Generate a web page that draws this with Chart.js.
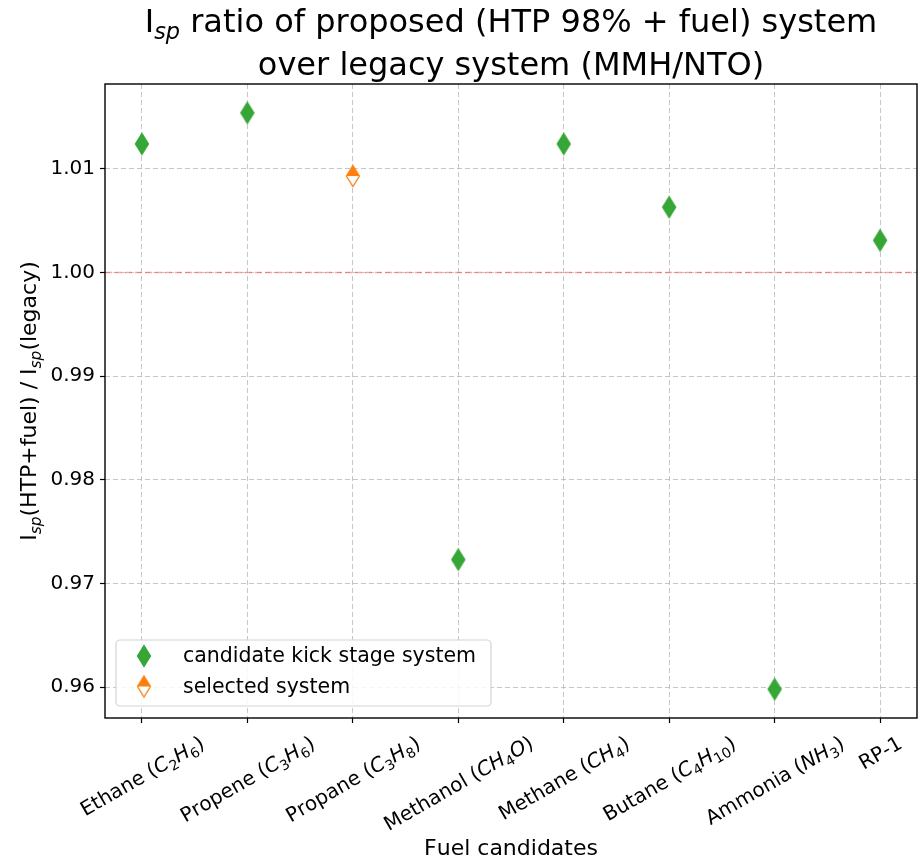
<!DOCTYPE html>
<html>
<head>
<meta charset="utf-8">
<script src="https://cdn.jsdelivr.net/npm/chart.js@4"></script>
<style>
  body { margin: 0; background: #fff; }
  canvas { display: block; }
</style>
</head>
<body>
<canvas id="chart" width="922" height="862"></canvas>
<script>
// Fuel candidates (matplotlib-like mathtext for the formulas)
const fuels = [
  'Ethane ($C_2H_6$)',
  'Propene ($C_3H_6$)',
  'Propane ($C_3H_8$)',
  'Methanol ($CH_4O$)',
  'Methane ($CH_4$)',
  'Butane ($C_4H_{10}$)',
  'Ammonia ($NH_3$)',
  'RP-1',
];

// Isp(HTP+fuel) / Isp(legacy)
const ispRatios = [1.0124, 1.0154, 1.0093, 0.9723, 1.0124, 1.0063, 0.9598, 1.0031];

// index of the selected system (Propane)
const selectedIndex = 2;

const yTicks = [0.96, 0.97, 0.98, 0.99, 1.00, 1.01];
const legacyRatio = 1.0;

const titleLines = [
  'I$_{sp}$ ratio of proposed (HTP 98% + fuel) system',
  'over legacy system (MMH/NTO)',
];
const yTitle = 'I$_{sp}$(HTP+fuel) / I$_{sp}$(legacy)';
const xTitle = 'Fuel candidates';
const legendLabels = ['candidate kick stage system', 'selected system'];

const FONT = '"DejaVu Sans", sans-serif';
const GREEN = '#36a636';
const ORANGE = '#ff7f0e';

// ---- small mathtext-ish helpers ----
function parseRich(str) {
  const runs = [];
  let math = false;
  let i = 0;
  while (i < str.length) {
    const ch = str[i];
    if (ch === '$') { math = !math; i++; continue; }
    if (!math) { runs.push({ t: ch, it: false, sub: false }); i++; continue; }
    if (ch === '_') {
      let body;
      if (str[i + 1] === '{') {
        const end = str.indexOf('}', i);
        body = str.slice(i + 2, end);
        i = end + 1;
      } else {
        body = str[i + 1];
        i += 2;
      }
      for (const c of body) runs.push({ t: c, it: /[A-Za-z]/.test(c), sub: true });
      continue;
    }
    runs.push({ t: ch, it: /[A-Za-z]/.test(ch), sub: false });
    i++;
  }
  return runs;
}

function runFont(r, size) {
  const s = r.sub ? size * 0.7 : size;
  return (r.it ? 'italic ' : '') + s + 'px ' + FONT;
}

function richWidth(ctx, runs, size) {
  let w = 0;
  runs.forEach(r => { ctx.font = runFont(r, size); w += ctx.measureText(r.t).width; });
  return w;
}

function drawRich(ctx, str, x, y, size, align) {
  const runs = parseRich(str);
  const w = richWidth(ctx, runs, size);
  let cx = align === 'center' ? x - w / 2 : x;
  ctx.textAlign = 'left';
  ctx.textBaseline = 'alphabetic';
  runs.forEach(r => {
    ctx.font = runFont(r, size);
    ctx.fillText(r.t, cx, y + (r.sub ? size * 0.22 : 0));
    cx += ctx.measureText(r.t).width;
  });
  return w;
}

// ---- thin diamond markers ----
function makeDiamond(topFill, bottomFill, edge) {
  const c = document.createElement('canvas');
  c.width = 18; c.height = 26;
  const g = c.getContext('2d');
  const cx = 9, cy = 13, hw = 6.5, hh = 10.5;
  g.fillStyle = bottomFill;
  g.beginPath(); g.moveTo(cx - hw, cy); g.lineTo(cx, cy + hh); g.lineTo(cx + hw, cy); g.closePath(); g.fill();
  g.fillStyle = topFill;
  g.beginPath(); g.moveTo(cx - hw, cy); g.lineTo(cx, cy - hh); g.lineTo(cx + hw, cy); g.closePath(); g.fill();
  g.strokeStyle = edge; g.lineWidth = 1.3; g.lineJoin = 'miter';
  g.beginPath(); g.moveTo(cx, cy - hh); g.lineTo(cx + hw, cy); g.lineTo(cx, cy + hh); g.lineTo(cx - hw, cy); g.closePath(); g.stroke();
  return c;
}
const greenDiamond = makeDiamond(GREEN, GREEN, GREEN);
const orangeDiamond = makeDiamond(ORANGE, '#f2fdfd', ORANGE);

// ---- axis ranges like matplotlib autoscale (5% margins) ----
const yLo = Math.min(...ispRatios), yHi = Math.max(...ispRatios);
const yPad = (yHi - yLo) * 0.05;
const xPad = (fuels.length - 1) * 0.05;

const candidatePoints = fuels.map((f, i) => ({ x: i, y: ispRatios[i] })).filter((p, i) => i !== selectedIndex);
const selectedPoints = [{ x: selectedIndex, y: ispRatios[selectedIndex] }];

const decorations = {
  id: 'decorations',
  beforeDatasetsDraw(chart) {
    const { ctx, chartArea: a, scales } = chart;
    const y = scales.y.getPixelForValue(legacyRatio);
    ctx.save();
    ctx.strokeStyle = 'rgba(255, 60, 60, 0.45)';
    ctx.lineWidth = 1.6;
    ctx.setLineDash([7, 3]);
    ctx.beginPath(); ctx.moveTo(a.left, y); ctx.lineTo(a.right, y); ctx.stroke();
    ctx.restore();
  },
  afterDraw(chart) {
    const { ctx, chartArea: a, scales } = chart;
    ctx.save();
    ctx.fillStyle = '#000';

    // frame
    ctx.strokeStyle = '#000';
    ctx.lineWidth = 1.4;
    ctx.strokeRect(a.left, a.top, a.right - a.left, a.bottom - a.top);

    const midX = (a.left + a.right) / 2;

    // title
    drawRich(ctx, titleLines[0], midX, 32, 32, 'center');
    drawRich(ctx, titleLines[1], midX, 75, 32, 'center');

    // x tick labels, rotated 30deg, bbox centred on the tick
    const size = 20, h = 23;
    const rot = Math.PI / 6;
    fuels.forEach((label, i) => {
      const runs = parseRich(label);
      const w = richWidth(ctx, runs, size);
      const bh = w * Math.sin(rot) + h * Math.cos(rot);
      const x = scales.x.getPixelForValue(i);
      const cy = a.bottom + 13 + bh / 2;
      ctx.save();
      ctx.translate(x, cy);
      ctx.rotate(-rot);
      drawRich(ctx, label, 0, size * 0.35, size, 'center');
      ctx.restore();
    });

    // x title
    drawRich(ctx, xTitle, midX, 855, 22, 'center');

    // y title
    ctx.save();
    ctx.translate(36, (a.top + a.bottom) / 2);
    ctx.rotate(-Math.PI / 2);
    drawRich(ctx, yTitle, 0, 0, 22, 'center');
    ctx.restore();

    // legend (lower left, inside axes)
    const lx = a.left + 11, ly = a.bottom - 78, lw = 375, lh = 66;
    ctx.fillStyle = 'rgba(255,255,255,0.85)';
    ctx.strokeStyle = '#d4d4d4';
    ctx.lineWidth = 1.2;
    ctx.beginPath();
    ctx.roundRect(lx, ly, lw, lh, 4);
    ctx.fill(); ctx.stroke();
    const markers = [greenDiamond, orangeDiamond];
    legendLabels.forEach((text, i) => {
      const my = ly + 16 + i * 30.5;
      ctx.drawImage(markers[i], a.left + 39 - 9, my - 13);
      ctx.fillStyle = '#000';
      ctx.font = '20.5px ' + FONT;
      ctx.textAlign = 'left';
      ctx.textBaseline = 'middle';
      ctx.fillText(text, a.left + 78, my + 1);
    });

    ctx.restore();
  },
};

const gridLine = {
  color: 'rgba(160, 160, 160, 0.6)',
  lineWidth: 1,
  drawTicks: true,
  tickLength: 5,
  tickColor: '#000',
  tickWidth: 1.2,
};

new Chart(document.getElementById('chart'), {
  type: 'scatter',
  data: {
    datasets: [
      {
        label: legendLabels[0],
        data: candidatePoints,
        pointStyle: greenDiamond,
      },
      {
        label: legendLabels[1],
        data: selectedPoints,
        pointStyle: orangeDiamond,
      },
    ],
  },
  options: {
    responsive: false,
    devicePixelRatio: 1,
    animation: false,
    layout: { padding: { top: 84, left: 0, right: 4, bottom: 0 } },
    plugins: {
      legend: { display: false },
      tooltip: { enabled: false },
    },
    scales: {
      x: {
        type: 'linear',
        min: -xPad,
        max: fuels.length - 1 + xPad,
        afterBuildTicks: scale => { scale.ticks = fuels.map((f, i) => ({ value: i })); },
        afterFit: scale => { scale.height = 144; },
        ticks: { display: false },
        grid: gridLine,
        border: { display: false, dash: [5, 3] },
      },
      y: {
        min: yLo - yPad,
        max: yHi + yPad,
        afterBuildTicks: scale => { scale.ticks = yTicks.map(v => ({ value: v })); },
        afterFit: scale => { scale.width = 105; },
        ticks: {
          color: '#000',
          font: { family: FONT, size: 20 },
          padding: 5,
          callback: v => v.toFixed(2),
        },
        grid: gridLine,
        border: { display: false, dash: [5, 3] },
      },
    },
  },
  plugins: [decorations],
});
</script>
</body>
</html>
